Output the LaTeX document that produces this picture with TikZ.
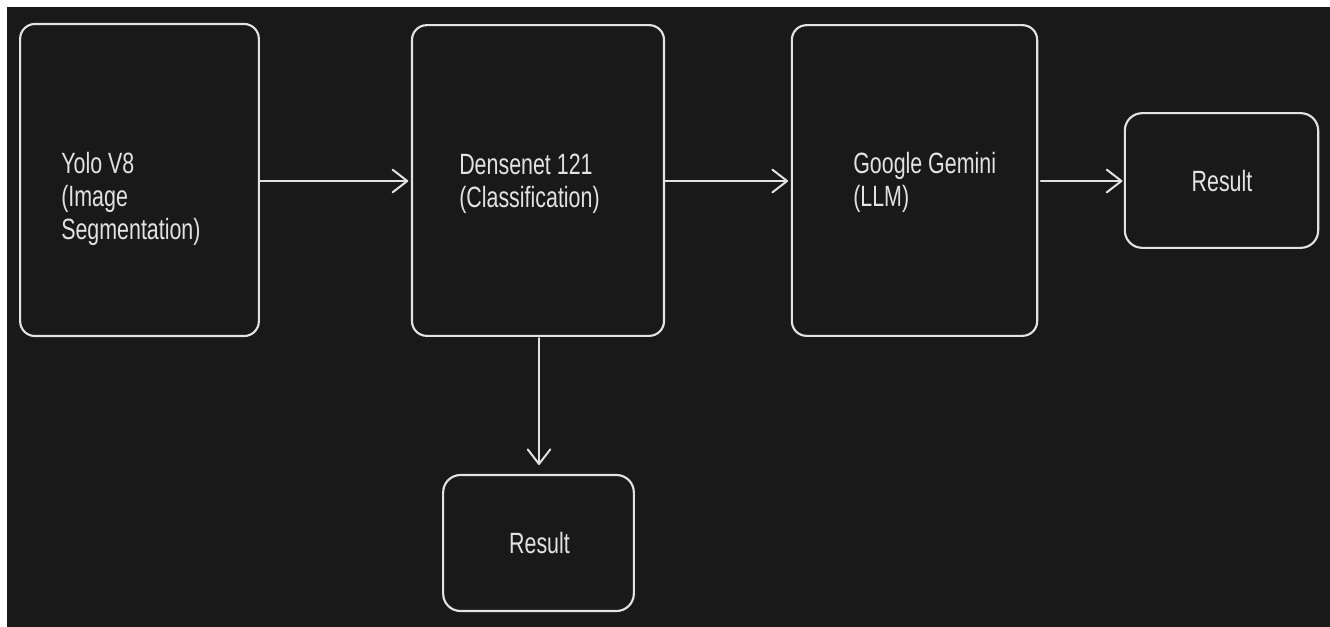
\documentclass[tikz,border=0pt]{standalone}
\usepackage{fontspec}
\setmainfont{Liberation Sans}[FakeStretch=0.73]
\usetikzlibrary{arrows.meta}
\definecolor{bg}{HTML}{191919}
\definecolor{fg}{HTML}{E2E2E2}
\begin{document}
\begin{tikzpicture}[x=0.75pt,y=-0.75pt,
  box/.style={draw=fg, line width=1.6pt, rounded corners=11pt, inner sep=0pt},
  txt/.style={text=fg, font=\fontsize{22}{24.5}\selectfont, inner sep=0pt, align=left},
  conn/.style={draw=fg, line width=1.5pt, line cap=round,
    -{Straight Barb[length=11pt,width=17pt,line width=1.5pt,round]}}]
\useasboundingbox (0,0) rectangle (1330,626);
\fill[bg] (-5,-5) rectangle (1340,636);
\fill[white] (-5,-5) rectangle (1340,7);
\fill[white] (-5,-5) rectangle (7,636);
\node[box, minimum width=179pt, minimum height=234pt] (b1) at (139.5,180) {};
\node[box, minimum width=189pt, minimum height=233pt] (b2) at (538,180.5) {};
\node[box, minimum width=184pt, minimum height=233pt] (b3) at (914.5,180.5) {};
\node[box, minimum width=145pt, minimum height=101pt, rounded corners=13pt] (b4) at (1221.5,180.5) {};
\node[box, minimum width=143pt, minimum height=102pt, rounded corners=13pt] (b5) at (538.5,543) {};
\node[txt, anchor=base west] (t1) at (61,239) {Yolo V8\\(Image\\Segmentation)};
\node[txt, anchor=base west] (t2) at (459,207) {Densenet 121\\(Classification)};
\node[txt, anchor=base west] (t3) at (853,206) {Google Gemini\\(LLM)};
\node[txt, anchor=base] (t4) at (1222,191) {Result};
\node[txt, anchor=base] (t5) at (539.5,553) {Result};
\draw[conn] (b1.east |- 0,181) -- ([xshift=-2pt]b2.west |- 0,181);
\draw[conn] (b2.east |- 0,181) -- ([xshift=-2pt]b3.west |- 0,181);
\draw[conn] ([xshift=2pt]b3.east |- 0,181) -- ([xshift=-1pt]b4.west |- 0,181);
\draw[conn] (539,338) -- (539,465);
\end{tikzpicture}
\end{document}
